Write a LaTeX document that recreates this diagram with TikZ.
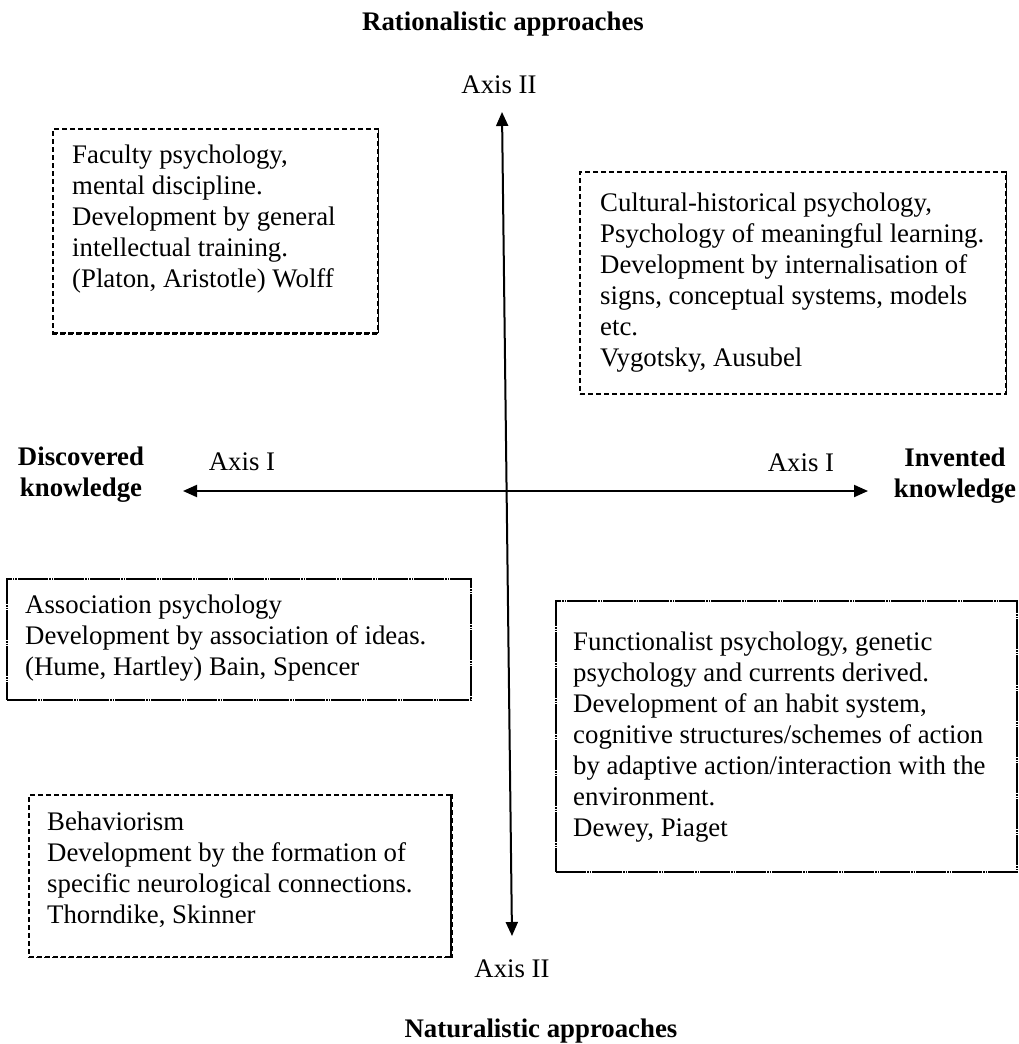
\documentclass[tikz,border=0pt]{standalone}
\usepackage{fontspec}
\setmainfont{Liberation Serif}
\usetikzlibrary{arrows.meta}
\tikzset{
  frame/.style={draw=black, line width=1.1pt, inner sep=0pt, dash pattern=on 5pt off 3pt},
  solidframe/.style={draw=black, line width=1.3pt, inner sep=0pt, dash pattern=on 30pt off 1pt on 1.5pt off 1pt on 1.5pt off 1pt},
  txt/.style={anchor=base west, inner sep=0pt, font=\fontsize{26.8}{31}\selectfont},
  lbl/.style={anchor=base, inner sep=0pt, font=\fontsize{26.8}{31}\selectfont},
  blbl/.style={anchor=base, inner sep=0pt, font=\fontsize{26.8}{31}\selectfont\bfseries},
  axis/.style={line width=2pt, {Triangle[length=14pt,width=12pt]}-{Triangle[length=14pt,width=12pt]}},
  thick side/.style={line width=2.2pt, dash pattern=on 5pt off 3pt}
}
\begin{document}
\begin{tikzpicture}[x=1pt,y=-1pt]
\useasboundingbox (0,0) rectangle (1019,1044);

% titles
\node[blbl] (rat) at (503,30) {Rationalistic approaches};
\node[blbl] (nat) at (541,1037) {Naturalistic approaches};

% axis labels
\node[lbl] (a2top) at (499,93) {Axis II};
\node[lbl] (a2bot) at (512,977) {Axis II};
\node[lbl] (a1left) at (242,470) {Axis I};
\node[lbl] (a1right) at (801,471) {Axis I};
\node[blbl] (disc) at (81,465) {\begin{tabular}[t]{@{}c@{}}Discovered\\knowledge\end{tabular}};
\node[blbl] (inv) at (955,466) {\begin{tabular}[t]{@{}c@{}}Invented\\knowledge\end{tabular}};

% axes
\coordinate (vt) at (502,112);
\coordinate (vb) at (512,936);
\coordinate (hl) at (183,491);
\coordinate (hr) at (868,491);
\draw[axis] (vt) -- (vb);
\draw[axis] (hl) -- (hr);

% frames
\node[frame, minimum width=325pt, minimum height=204pt] (fac) at (215.5,231) {};
\draw[thick side] (fac.south west) -- (fac.south east);
\draw[line width=1.7pt, dash pattern=on 5pt off 3pt] (fac.north east) -- (fac.south east);

\node[frame, minimum width=426pt, minimum height=222pt] (cul) at (793,283) {};
\draw[line width=1.6pt, dash pattern=on 5pt off 3pt] (cul.north east) -- (cul.south east);

\node[solidframe, minimum width=464pt, minimum height=121pt] (ass) at (239,639.5) {};
\node[solidframe, minimum width=461pt, minimum height=271pt] (fun) at (786.5,736.5) {};

\node[frame, minimum width=422pt, minimum height=162pt] (beh) at (240,876) {};
\draw[thick side] (beh.north east) -- (beh.south east);
\draw[line width=1.6pt, dash pattern=on 5pt off 3pt] (beh.south west) -- (beh.south east);

% texts
\node[txt] (factxt) at (72,163) {\begin{tabular}[t]{@{}l@{}}Faculty psychology,\\mental discipline.\\Development by general\\intellectual training.\\(Platon, Aristotle) Wolff\end{tabular}};
\node[txt] (cultxt) at (600,211) {\begin{tabular}[t]{@{}l@{}}Cultural-historical psychology,\\Psychology of meaningful learning.\\Development by internalisation of\\signs, conceptual systems, models\\etc.\\Vygotsky, Ausubel\end{tabular}};
\node[txt] (asstxt) at (25,613) {\begin{tabular}[t]{@{}l@{}}Association psychology\\Development by association of ideas.\\(Hume, Hartley) Bain, Spencer\end{tabular}};
\node[txt] (funtxt) at (573,650) {\begin{tabular}[t]{@{}l@{}}Functionalist psychology, genetic\\psychology and currents derived.\\Development of an habit system,\\cognitive structures/schemes of action\\by adaptive action/interaction with the\\environment.\\Dewey, Piaget\end{tabular}};
\node[txt] (behtxt) at (47,830) {\begin{tabular}[t]{@{}l@{}}Behaviorism\\Development by the formation of\\specific neurological connections.\\Thorndike, Skinner\end{tabular}};
\end{tikzpicture}
\end{document}
